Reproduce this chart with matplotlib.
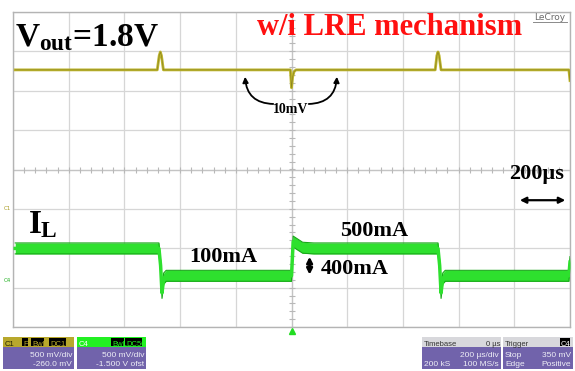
import numpy as np
import matplotlib
matplotlib.use("Agg")
import matplotlib.pyplot as plt
from matplotlib.patches import Rectangle

plt.rcParams["mathtext.fontset"] = "custom"
plt.rcParams["mathtext.rm"] = "Liberation Serif:bold"
plt.rcParams["mathtext.it"] = "Liberation Serif:bold"
plt.rcParams["mathtext.bf"] = "Liberation Serif:bold"

# scope settings: 10 x 200 us horizontal, 8 vertical divisions
T_DIV = 200.0
N_XDIV = 10
N_YDIV = 8

# Vout trace (C1), deviation from 1.8 V in mV
VOUT_MV_PER_DIV = 22.0
VOUT_POS = 2.53
vout_t = [-992, -482, -475, -471, -467, -460, -4, 0, 4, 9, 16,
          516, 522, 526, 530, 537, 996, 1000]
vout_dv = [0, 0, 8, 10, 8, 0, 0, -10, -4, -1, 0,
           0, 8, 10, 8, 0, 0, -6]

# inductor current trace (C4), mA
IL_MA_PER_DIV = 575.0
IL_POS = -2.874
IL_RIPPLE = 80.0
il_t = [-992, -476, -470, -465, -459, -450, 0, 6, 40, 80,
        526, 532, 537, 543, 552, 996, 1000]
il_ma = [500, 500, 250, -150, 60, 100, 100, 600, 510, 500,
         500, 250, -150, 60, 100, 100, 300]

VOUT_COLOR = "#bdb52c"
IL_COLOR = "#2ee02e"
IL_EDGE = "#18a818"
PURPLE = "#7163ab"

fig = plt.figure(figsize=(5.75, 3.71), dpi=100)
ax = fig.add_axes([13 / 575, 1 - 327 / 371, 557 / 575, 315 / 371])
ax.set_xlim(-T_DIV * N_XDIV / 2, T_DIV * N_XDIV / 2)
ax.set_ylim(-N_YDIV / 2, N_YDIV / 2)

# graticule
for xg in np.arange(-1000, 1001, T_DIV):
    ax.axvline(xg, color="#d6d6d6", lw=0.9, zorder=1)
for yg in np.arange(-4, 5, 1):
    ax.axhline(yg, color="#d6d6d6", lw=0.9, zorder=1)
ax.axvline(0, color="#c4c4c4", lw=0.9, zorder=1)
ax.axhline(0, color="#c4c4c4", lw=0.9, zorder=1)
xt = np.arange(-1000, 1001, T_DIV / 5)
yt = np.arange(-4, 4.01, 0.2)
ax.plot(xt, np.zeros_like(xt), ls="none", marker="|", ms=4, color="#b8b8b8", mew=0.8, zorder=1)
ax.plot(np.zeros_like(yt), yt, ls="none", marker="_", ms=4, color="#b8b8b8", mew=0.8, zorder=1)
for s in ax.spines.values():
    s.set_color("#b4b4b4")
    s.set_linewidth(1.0)
ax.set_xticks([])
ax.set_yticks([])

# Vout
vout_y = VOUT_POS + np.array(vout_dv) / VOUT_MV_PER_DIV
ax.plot(vout_t, vout_y, color=VOUT_COLOR, lw=2.0, zorder=3, solid_joinstyle="round")
ax.plot(vout_t, vout_y, color="#8c8420", lw=0.5, zorder=3)

# IL band
il_y = IL_POS + np.array(il_ma) / IL_MA_PER_DIV
rip = IL_RIPPLE / IL_MA_PER_DIV
ax.fill_between(il_t, il_y - rip, il_y + rip, color=IL_COLOR, lw=0, zorder=3)
ax.plot(il_t, il_y + rip, color=IL_EDGE, lw=0.8, zorder=3)
ax.plot(il_t, il_y - rip, color=IL_EDGE, lw=0.8, zorder=3)
ax.plot(il_t, il_y, color=IL_COLOR, lw=2.5, zorder=3)

# 200us scale arrow
ax.annotate("", xy=(993, -0.78), xytext=(810, -0.78),
            arrowprops=dict(arrowstyle="<|-|>", color="black", lw=1.6, mutation_scale=9))

# 400mA step arrow
ax.annotate("", xy=(65, IL_POS + 100 / IL_MA_PER_DIV - rip * 0.3),
            xytext=(65, IL_POS + 500 / IL_MA_PER_DIV - rip),
            arrowprops=dict(arrowstyle="<|-|>", color="black", lw=2.0, mutation_scale=8))

# overlay in pixel units for labels and status boxes
ov = fig.add_axes([0, 0, 1, 1], facecolor="none")
ov.set_xlim(0, 575)
ov.set_ylim(371, 0)
ov.axis("off")

serif = dict(family="Liberation Serif", weight="bold")
ov.text(15, 46, "$V_{out}$=1.8V", fontsize=24, color="black", **serif)
ov.text(390, 35, "w/i LRE mechanism", fontsize=22, color="#ff1010", ha="center", **serif)
ov.text(291, 113, "10mV", fontsize=10, ha="center", **serif)
ov.text(537, 179, "200µs", fontsize=16, ha="center", **serif)
ov.text(28, 233, "$I_L$", fontsize=24, **serif)
ov.text(223, 262, "100mA", fontsize=16, ha="center", **serif)
ov.text(374, 236, "500mA", fontsize=16, ha="center", **serif)
ov.text(355, 274, "400mA", fontsize=16, ha="center", **serif)

ov.annotate("", xy=(245, 74), xytext=(276, 104),
            arrowprops=dict(arrowstyle="-|>", color="black", lw=1.3, mutation_scale=8,
                            connectionstyle="arc3,rad=-0.5"))
ov.annotate("", xy=(337, 74), xytext=(306, 104),
            arrowprops=dict(arrowstyle="-|>", color="black", lw=1.3, mutation_scale=8,
                            connectionstyle="arc3,rad=0.5"))

# LeCroy logo
ov.text(550, 20, "LeCroy", fontsize=6.5, color="#6a6a6a", ha="center", family="DejaVu Sans")
ov.plot([533, 567], [22, 22], color="#8a8a8a", lw=0.7)

# channel markers and trigger position
ov.text(7, 210, "C1", fontsize=4, color="#a89a20", ha="center", family="DejaVu Sans")
ov.text(7, 282, "C4", fontsize=4, color="#20b020", ha="center", family="DejaVu Sans")
ov.plot([292], [331], marker="^", ms=5, color="#22dd22")

# status boxes
sans = dict(family="Liberation Sans")


def box(x0, x1, head_color, body_lines, head_items):
    ov.add_patch(Rectangle((x0, 337), x1 - x0, 32, color=PURPLE, lw=0))
    ov.add_patch(Rectangle((x0, 337), x1 - x0, 10, color=head_color, lw=0))
    for (x, txt, c, bg) in head_items:
        if bg:
            ov.add_patch(Rectangle((x - 1, 338), len(txt) * 3.8 + 2, 8, color=bg, lw=0))
        ov.text(x, 345.5, txt, fontsize=5.5, color=c, **sans)
    for (x, y, txt, ha) in body_lines:
        ov.text(x, y, txt, fontsize=6, color="#eeeef6", ha=ha, **sans)


box(3, 74, "#b8a82c",
    [(72, 357, "500 mV/div", "right"), (72, 366.5, "-260.0 mV", "right")],
    [(5, "C1", "#222200", None), (23, "F", "#b8a82c", "black"),
     (32, "BwL", "#b8a82c", "black"), (50, "DC1M", "#b8a82c", "black")])
box(77, 146, "#22f022",
    [(144, 357, "500 mV/div", "right"), (144, 366.5, "-1.500 V ofst", "right")],
    [(79, "C4", "#ffffff", None), (112, "BwL", "#22f022", "black"),
     (126, "DC50", "#22f022", "black")])
box(422, 501, "#d8d8dc",
    [(499, 357, "200 µs/div", "right"), (424, 366.5, "200 kS", "left"),
     (499, 366.5, "100 MS/s", "right")],
    [(424, "Timebase", "#333333", None), (486, "0 µs", "#333333", None)])
box(503, 573, "#d8d8dc",
    [(505, 357, "Stop", "left"), (571, 357, "350 mV", "right"),
     (505, 366.5, "Edge", "left"), (571, 366.5, "Positive", "right")],
    [(505, "Trigger", "#333333", None), (561, "C4", "#ffffff", "black")])

fig.savefig("out.png", dpi=100)
